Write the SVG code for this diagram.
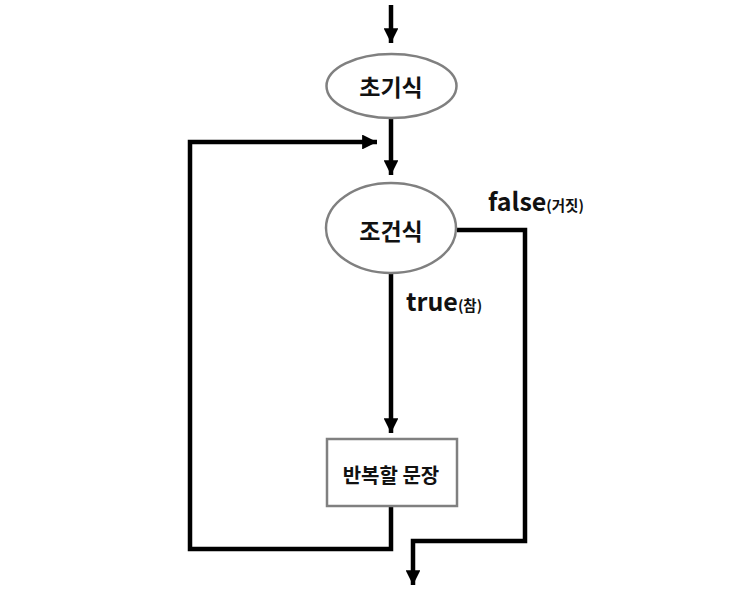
<svg xmlns="http://www.w3.org/2000/svg" width="739" height="606" viewBox="0 0 739 606">
<defs>
<marker id="ah" viewBox="0 0 10 10" refX="10" refY="5" markerWidth="3.3" markerHeight="3.3" markerUnits="strokeWidth" orient="auto">
<path d="M0,0 L10,5 L0,10 z" fill="#000"/>
</marker>
<style>
.c{fill:none;stroke:#000;stroke-width:4.5;stroke-linejoin:miter}
.n{fill:#fff;stroke:#808080;stroke-width:2.5}
.t{font-family:"Noto Sans CJK KR","Noto Sans",sans-serif;font-weight:bold;fill:#111;text-anchor:middle}
.l{font-family:"Noto Sans CJK KR","Noto Sans",sans-serif;fill:#111}
</style>
</defs>
<rect width="739" height="606" fill="#fff"/>
<g id="connectors">
<path class="c" d="M391,5 V43" marker-end="url(#ah)"/>
<path class="c" d="M391,118 V175" marker-end="url(#ah)"/>
<path class="c" d="M391,273 V433" marker-end="url(#ah)"/>
<path class="c" d="M391,506 V549 H190 V142 H377" marker-end="url(#ah)"/>
<path class="c" d="M457,230 H525 V541 H413 V585" marker-end="url(#ah)"/>
</g>
<g id="init">
<ellipse class="n" cx="391.5" cy="86" rx="65" ry="32"/>
<text class="t" x="391" y="96" font-size="23">초기식</text>
</g>
<g id="cond">
<ellipse class="n" cx="391" cy="228" rx="65" ry="45"/>
<text class="t" x="391" y="240" font-size="23">조건식</text>
</g>
<g id="body">
<rect class="n" x="327" y="439" width="130" height="67"/>
<text class="t" x="391" y="483" font-size="20">반복할 문장</text>
</g>
<g id="labels">
<text class="l" x="488" y="211"><tspan font-size="25" font-weight="bold">false</tspan><tspan font-size="14.5" font-weight="bold">(거짓)</tspan></text>
<text class="l" x="406" y="311"><tspan font-size="25" font-weight="bold">true</tspan><tspan font-size="14.5" font-weight="bold">(참)</tspan></text>
</g>
</svg>
